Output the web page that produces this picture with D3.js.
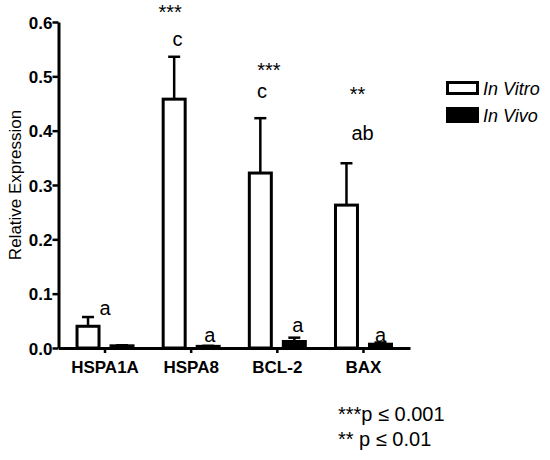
<!DOCTYPE html>
<html><head><meta charset="utf-8">
<script src="https://cdn.jsdelivr.net/npm/d3@7"></script>
<style>body{margin:0;background:#fff}</style>
</head><body>
<svg id="chart" width="550" height="460"></svg>
<script>
// ---- data ----
const categories = ["HSPA1A", "HSPA8", "BCL-2", "BAX"];
const seriesNames = ["In Vitro", "In Vivo"];
const inVitro    = [0.040, 0.458, 0.322, 0.263];
const inVitroErr = [0.017, 0.078, 0.101, 0.077];
const inVivo     = [0.004, 0.003, 0.012, 0.007];
const inVivoErr  = [0.001, 0.001, 0.007, 0.003];
const yTicks = [0.0, 0.1, 0.2, 0.3, 0.4, 0.5, 0.6];
// annotation labels: category, slot within group (-1 vitro, 0 centre, 1 vivo), text, height (value units)
const annoCategory = ["HSPA1A", "HSPA8", "HSPA8", "HSPA8", "BCL-2", "BCL-2", "BCL-2", "BAX", "BAX", "BAX"];
const annoSlot     = [0, -1.24, -0.8, 1.1, -0.5, -0.9, 1.2, -0.35, -0.05, 1.0];
const annoText     = ["a", "***", "c", "a", "***", "c", "a", "**", "ab", "a"];
const annoValue    = [0.061, 0.605, 0.556, 0.011, 0.499, 0.460, 0.029, 0.455, 0.383, 0.011];
const footnotes = ["***p \u2264 0.001", "** p \u2264 0.01"];
const yTitle = "Relative Expression";

// ---- layout ----
const FONT = "'Liberation Sans', Arial, Helvetica, sans-serif";
const plotLeft = 58.5, plotRight = 410, plotTop = 22, plotBottom = 348;
const svg = d3.select("#chart");

const x0 = d3.scaleBand().domain(categories).range([plotLeft, plotRight]).paddingInner(0).paddingOuter(0.04);
const x1 = d3.scaleBand().domain(seriesNames).range([-28, 28]).paddingInner(0.353).paddingOuter(0);
const y = d3.scaleLinear().domain([0, 0.6]).range([plotBottom, plotTop]);
const slotW = x1.step() / 2;

const rows = categories.map((c, i) => ([
  {c, s: seriesNames[0], v: inVitro[i], e: inVitroErr[i], fill: "#fff"},
  {c, s: seriesNames[1], v: inVivo[i], e: inVivoErr[i], fill: "#000"}
])).flat();
const cx = d => x0(d.c) + x0.bandwidth() / 2 + x1(d.s) + x1.bandwidth() / 2;

const g = svg.append("g");
g.selectAll("line.err").data(rows).join("line").attr("class", "err")
  .attr("x1", cx).attr("x2", cx)
  .attr("y1", d => y(d.v)).attr("y2", d => y(d.v + d.e))
  .attr("stroke", "#000").attr("stroke-width", 2.5);
g.selectAll("line.cap").data(rows).join("line").attr("class", "cap")
  .attr("x1", d => cx(d) - 6).attr("x2", d => cx(d) + 6)
  .attr("y1", d => y(d.v + d.e)).attr("y2", d => y(d.v + d.e))
  .attr("stroke", "#000").attr("stroke-width", 2.5);
g.selectAll("rect.bar").data(rows).join("rect").attr("class", "bar")
  .attr("x", d => x0(d.c) + x0.bandwidth() / 2 + x1(d.s))
  .attr("width", x1.bandwidth())
  .attr("y", d => y(d.v))
  .attr("height", d => y(0) - y(d.v))
  .attr("fill", d => d.fill)
  .attr("stroke", "#000").attr("stroke-width", 3);

// axes
const yAxis = svg.append("g").attr("transform", `translate(${plotLeft},0)`)
  .call(d3.axisLeft(y).tickValues(yTicks).tickFormat(d3.format(".1f")).tickSize(6).tickSizeOuter(0).tickPadding(0));
const xAxis = svg.append("g").attr("transform", `translate(0,${plotBottom})`)
  .call(d3.axisBottom(x0).tickSize(5).tickSizeOuter(0).tickPadding(8));
[yAxis, xAxis].forEach(a => {
  a.select(".domain").attr("stroke", "#000").attr("stroke-width", 3);
  a.selectAll(".tick line").attr("stroke", "#000").attr("stroke-width", 2.5);
  a.selectAll("text").attr("fill", "#000").attr("font-family", FONT)
    .attr("font-weight", "bold").attr("font-size", 17);
});
yAxis.selectAll("text").attr("dy", "0.36em");
xAxis.selectAll("text").attr("dy", "0.71em");

// y title
svg.append("text")
  .attr("transform", `translate(20.5,${(plotTop + plotBottom) / 2}) rotate(-90)`)
  .attr("text-anchor", "middle")
  .attr("font-family", FONT).attr("font-size", 17).attr("fill", "#000")
  .text(yTitle);

// annotations
svg.append("g").selectAll("text").data(annoText).join("text")
  .attr("x", (t, i) => x0(annoCategory[i]) + x0.bandwidth() / 2 + annoSlot[i] * slotW)
  .attr("y", (t, i) => y(annoValue[i]))
  .attr("text-anchor", "middle")
  .attr("font-family", FONT).attr("font-size", 20).attr("fill", "#000")
  .text(t => t);

// legend
const lg = svg.append("g");
lg.append("rect").attr("x", 447.5).attr("y", 82.5).attr("width", 30).attr("height", 11)
  .attr("fill", "#fff").attr("stroke", "#000").attr("stroke-width", 3);
lg.append("rect").attr("x", 446).attr("y", 107).attr("width", 33).attr("height", 16)
  .attr("fill", "#000");
lg.selectAll("text").data(seriesNames).join("text")
  .attr("x", 483).attr("y", (d, i) => 95 + i * 27)
  .attr("font-family", FONT).attr("font-style", "italic").attr("font-size", 18).attr("fill", "#000")
  .text(d => d);

// footnotes
svg.append("g").selectAll("text").data(footnotes).join("text")
  .attr("x", 338).attr("y", (d, i) => 421 + i * 25)
  .attr("font-family", FONT).attr("font-size", 20).attr("fill", "#000")
  .text(d => d);
</script>
</body></html>
